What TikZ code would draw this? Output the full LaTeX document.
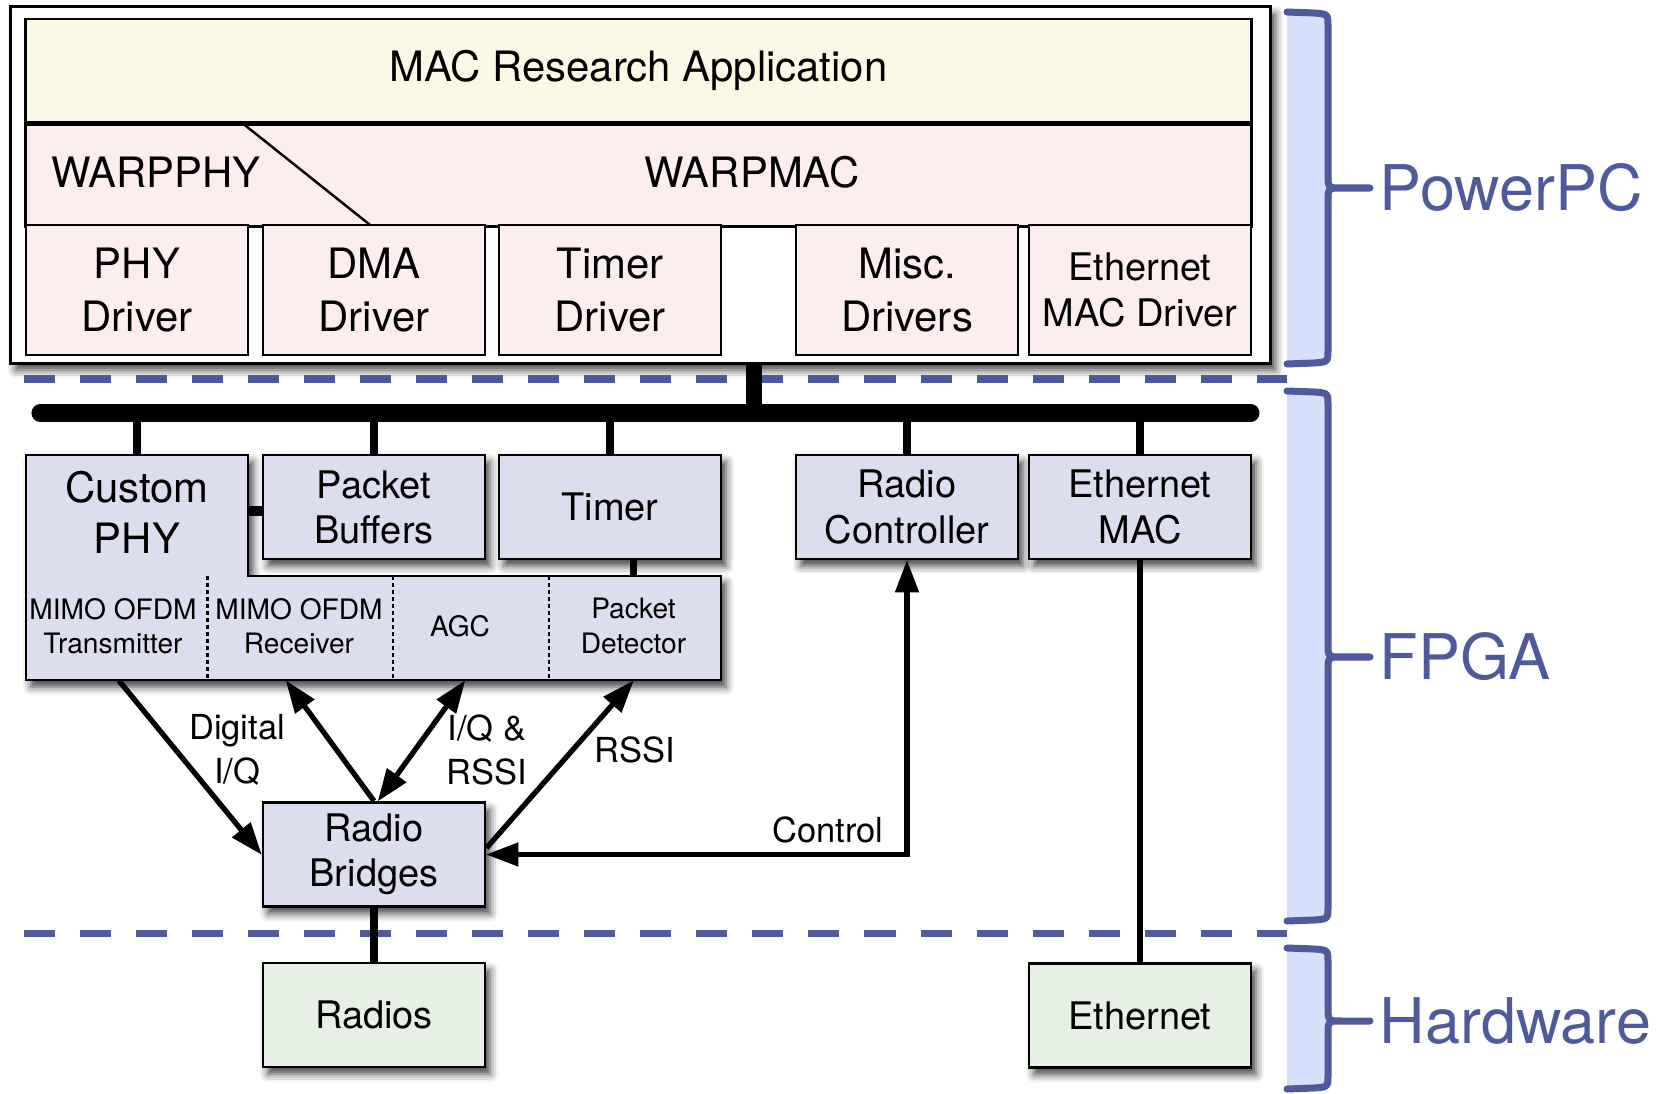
\documentclass[tikz,border=0pt]{standalone}
\usepackage{fontspec}
\setmainfont{TeX Gyre Heros}
\usepackage{tikz}
\usetikzlibrary{arrows.meta,positioning,calc,shadows.blur}

\definecolor{appfill}{RGB}{252,248,230}
\definecolor{swfill}{RGB}{252,238,238}
\definecolor{fpgafill}{RGB}{221,221,240}
\definecolor{hwfill}{RGB}{230,240,228}
\definecolor{bracefill}{RGB}{214,224,251}
\definecolor{layerblue}{RGB}{78,90,155}

\begin{document}
\begin{tikzpicture}[x=0.01cm, y=-0.01cm,
    >={Triangle[length=0.32cm, width=0.24cm, fill=black, line width=0.5pt]},
    boxshadow/.style={blur shadow={shadow xshift=0.05cm, shadow yshift=-0.07cm, shadow blur radius=0.08cm, shadow opacity=75}},
    swbox/.style={draw, line width=0.7pt, fill=swfill, minimum width=2.22cm, minimum height=1.30cm, align=center, inner sep=0pt, font=\fontsize{11.9}{15.1}\selectfont},
    fpgabox/.style={draw, line width=0.8pt, fill=fpgafill, minimum width=2.22cm, minimum height=1.04cm, align=center, inner sep=0pt, boxshadow, font=\fontsize{10.8}{12.8}\selectfont},
    hwbox/.style={fpgabox, fill=hwfill},
    subblock/.style={minimum height=1.08cm, align=center, inner sep=0pt, font=\fontsize{8}{9.7}\selectfont},
    lbl/.style={align=center, inner sep=0pt, font=\fontsize{9.8}{12.5}\selectfont},
    link/.style={line width=1.5pt},
    drop/.style={line width=2pt},
    sep/.style={layerblue, line width=0.07cm, dash pattern=on 0.31cm off 0.25cm},
    layer/.style={anchor=west, inner sep=0pt, text=layerblue, font=\fontsize{17.9}{20}\selectfont}
]
    \useasboundingbox (0,0) rectangle (1678,1094);

    % PowerPC software stack
    \node[draw, line width=0.9pt, fill=white, minimum width=12.59cm, minimum height=3.56cm, boxshadow] (ppc) at (640.5,185) {};
    \node[draw, line width=0.7pt, fill=appfill, minimum width=12.25cm, minimum height=1.03cm, font=\fontsize{11.9}{15}\selectfont] (app) at (638.5,70.5) {MAC Research Application};
    \node[draw, line width=0.7pt, fill=swfill, minimum width=12.25cm, minimum height=1.02cm, anchor=north] (warp) at (app.south) {};
    \draw[line width=0.7pt] ([xshift=2.18cm]warp.north west) -- ([xshift=3.49cm]warp.south west);
    \node[font=\fontsize{11.9}{15}\selectfont] (wphy) at (156,172.5) {WARPPHY};
    \node[font=\fontsize{11.9}{15}\selectfont] (wmac) at (752,172.5) {WARPMAC};

    \foreach \x/\name/\txt in {137/phyd/{PHY\\Driver}, 374/dmad/{DMA\\Driver}, 610/timd/{Timer\\Driver}, 907/miscd/{Misc.\\Drivers}}
        \node[swbox] (\name) at (\x,290) {\txt};
    \node[swbox, font=\fontsize{10.8}{12.8}\selectfont] (ethd) at (1140,290) {Ethernet\\MAC Driver};

    % layer separators
    \draw[sep] (24,379) -- (1287,379);
    \draw[sep] (24,933) -- (1287,933);

    % processor bus
    \coordinate (busL) at (40,413);
    \coordinate (busR) at (1251,413);
    \draw[line width=0.17cm, line cap=round] (busL) -- (busR);
    \coordinate (stub) at (754,413);
    \draw[line width=0.16cm] (stub |- ppc.south) -- (stub);

    % Custom PHY (L-shaped block)
    \coordinate (phyA) at (26,455);
    \coordinate (phyB) at (248,455);
    \coordinate (phyC) at (248,576);
    \coordinate (phyD) at (721,576);
    \coordinate (phyE) at (721,680);
    \coordinate (phyF) at (26,680);
    \draw[line width=0.8pt, fill=fpgafill, boxshadow] (phyA) -- (phyB) -- (phyC) -- (phyD) -- (phyE) -- (phyF) -- cycle;
    \node[font=\fontsize{11.9}{14.5}\selectfont, align=center, inner sep=0pt] (cphy) at (137,512) {Custom\\PHY};
    \node[subblock] (tx) at (113,626) {MIMO OFDM\\Transmitter};
    \node[subblock] (rx) at (299,626) {MIMO OFDM\\Receiver};
    \node[subblock] (agc) at (460,626) {AGC};
    \node[subblock] (det) at (633.5,626) {Packet\\Detector};
    \foreach \x in {207.5,392.6,548.7}
        \draw[line width=0.6pt, dash pattern=on 0.035cm off 0.035cm] (\x,576) -- (\x,680);

    % FPGA cores
    \node[fpgabox] (pb) at (374,507) {Packet\\Buffers};
    \node[fpgabox] (tmr) at (610,507) {Timer};
    \node[fpgabox] (rc) at (907,507) {Radio\\Controller};
    \node[fpgabox] (emac) at (1140,507) {Ethernet\\MAC};
    \node[fpgabox] (rb) at (374,854.5) {Radio\\Bridges};

    % hardware
    \node[hwbox] (radios) at (374,1015) {Radios};
    \node[hwbox] (eth) at (1140,1015.5) {Ethernet};

    % bus drops and links
    \coordinate (phytop) at (137,455);
    \foreach \n in {phytop, pb.north, tmr.north, rc.north, emac.north}
        \draw[drop] (\n) -- (\n |- busL);
    \coordinate (physide) at (248,511);
    \draw[line width=0.09cm] (physide) -- (physide -| pb.west);
    \draw[drop] (det |- tmr.south) -- (det |- phyD);
    \draw[drop] (rb.south) -- (radios.north);
    \draw[line width=1.6pt] (emac.south) -- (eth.north);

    % data paths
    \draw[link, ->] ([xshift=0.06cm]tx.south) -- (rb.west);
    \draw[link, ->] (rb.north) -- ([xshift=-0.13cm]rx.south);
    \draw[link, <->] ([xshift=0.05cm]agc.south) -- ([xshift=0.04cm]rb.north);
    \draw[link, ->] ([yshift=0.065cm]rb.east) -- (det.south);
    \draw[link, <->] (rc.south) |- (rb.east);

    \node[lbl] (ldig) at (237,750) {Digital\\I/Q};
    \node[lbl] (liq) at (487,750) {I/Q \&\\RSSI};
    \node[lbl] (lrssi) at (635,750) {RSSI};
    \node[lbl, anchor=east] (lctl) at (884,830) {Control};

    % layer braces
    \foreach \ya/\ym/\yb/\lab in {12/188/364/PowerPC, 391/657/921/FPGA, 948/1021/1089/Hardware} {
        \fill[bracefill] (1287,\ya) -- (1314,\ya+1) .. controls (1328,\ya+2) .. (1328,\ya+14) -- (1328,\yb-14) .. controls (1328,\yb-2) .. (1314,\yb-1) -- (1287,\yb) -- cycle;
        \draw[layerblue, line width=0.07cm, line cap=round, line join=round] (1287,\ya) -- (1314,\ya+1) .. controls (1328,\ya+2) .. (1328,\ya+14) -- (1328,\ym-14) .. controls (1328,\ym) .. (1342,\ym) -- (1370,\ym)
            (1342,\ym) .. controls (1328,\ym) .. (1328,\ym+14) -- (1328,\yb-14) .. controls (1328,\yb-2) .. (1314,\yb-1) -- (1287,\yb);
        \node[layer] (lay\lab) at (1379,\ym) {\lab};
    }
\end{tikzpicture}
\end{document}
